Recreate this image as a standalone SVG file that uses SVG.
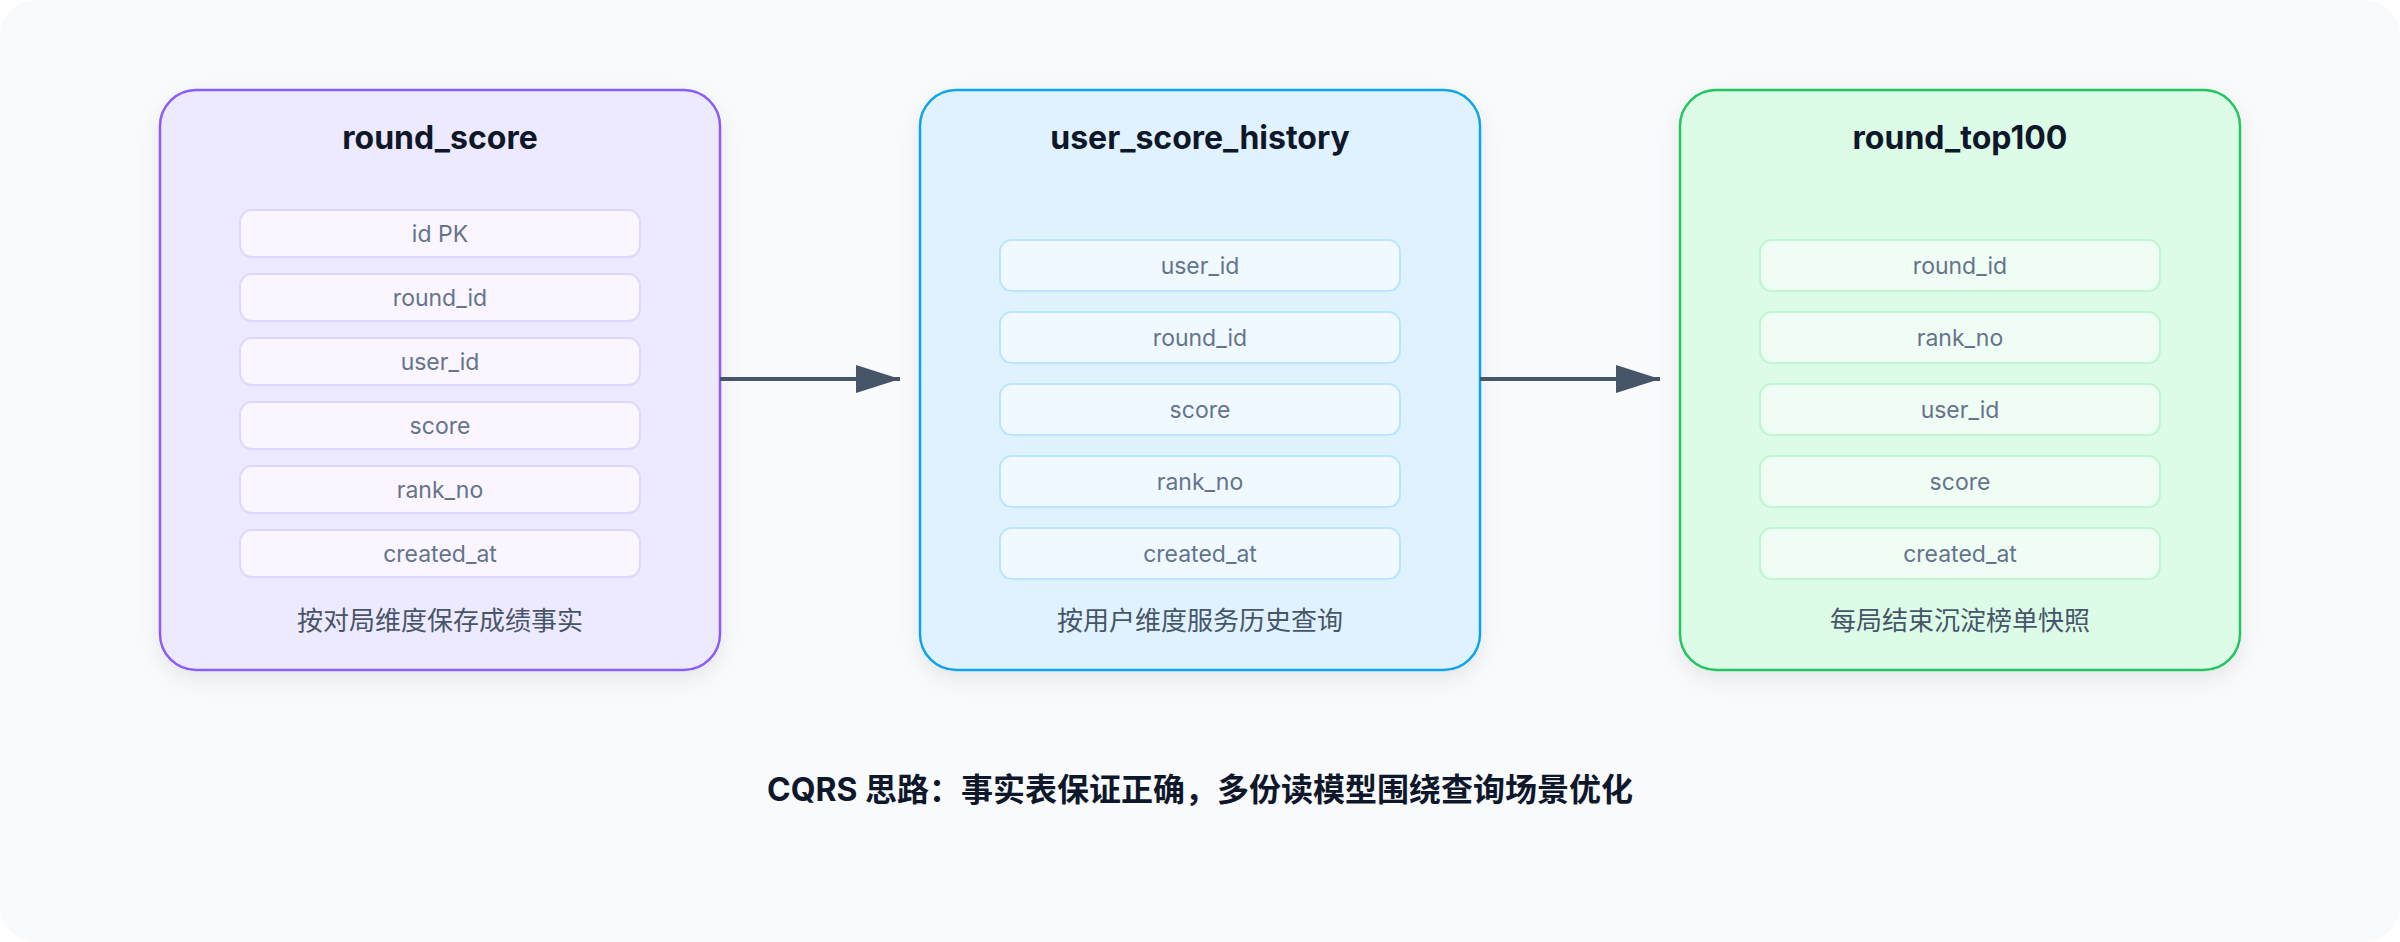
<svg xmlns="http://www.w3.org/2000/svg" width="2400" height="942" viewBox="0 0 2400 942">
<defs>
<filter id="sh" x="-10%" y="-10%" width="120%" height="120%"><feDropShadow dx="0" dy="8" stdDeviation="10" flood-color="#0f172a" flood-opacity="0.08"/></filter>
<marker id="ah" viewBox="0 0 44 28" markerWidth="44" markerHeight="28" refX="44" refY="14" orient="auto" markerUnits="userSpaceOnUse"><path d="M0,0 L44,14 L0,28 Z" fill="#475569"/></marker>
</defs>
<style>
.t{font-family:Inter,"Noto Sans CJK SC",sans-serif;font-weight:700;font-size:32px;fill:#0f172a;text-anchor:middle}
.f{font-family:Inter,"Noto Sans CJK SC",sans-serif;font-size:23px;fill:#64748b;text-anchor:middle}
.c{font-family:Inter,"Noto Sans CJK SC",sans-serif;font-size:26px;fill:#475569;text-anchor:middle}
.p .b{fill:#ede9fe;stroke:#8b5cf6}.p .r{fill:#faf5ff;stroke:#ddd6fe}
.s .b{fill:#e0f2fe;stroke:#0ea5e9}.s .r{fill:#f0f9ff;stroke:#bae6fd}
.g .b{fill:#dcfce7;stroke:#22c55e}.g .r{fill:#f0fdf4;stroke:#bbf7d0}
.b{stroke-width:2.5;filter:url(#sh)}.r{stroke-width:2}
</style>
<rect x="0" y="0" width="2400" height="942" rx="36" fill="#f8fafc"/>
<g id="round_score" class="p">
<rect class="b" x="160" y="90" width="560" height="580" rx="36"/>
<text class="t" x="440" y="149">round_score</text>
<rect class="r" x="240" y="210" width="400" height="47" rx="12"/><text class="f" x="440" y="242">id PK</text>
<rect class="r" x="240" y="274" width="400" height="47" rx="12"/><text class="f" x="440" y="306">round_id</text>
<rect class="r" x="240" y="338" width="400" height="47" rx="12"/><text class="f" x="440" y="370">user_id</text>
<rect class="r" x="240" y="402" width="400" height="47" rx="12"/><text class="f" x="440" y="434">score</text>
<rect class="r" x="240" y="466" width="400" height="47" rx="12"/><text class="f" x="440" y="498">rank_no</text>
<rect class="r" x="240" y="530" width="400" height="47" rx="12"/><text class="f" x="440" y="562">created_at</text>
<text class="c" x="440" y="630">按对局维度保存成绩事实</text>
</g>
<g id="user_score_history" class="s">
<rect class="b" x="920" y="90" width="560" height="580" rx="36"/>
<text class="t" x="1200" y="149">user_score_history</text>
<rect class="r" x="1000" y="240" width="400" height="51" rx="12"/><text class="f" x="1200" y="274">user_id</text>
<rect class="r" x="1000" y="312" width="400" height="51" rx="12"/><text class="f" x="1200" y="346">round_id</text>
<rect class="r" x="1000" y="384" width="400" height="51" rx="12"/><text class="f" x="1200" y="418">score</text>
<rect class="r" x="1000" y="456" width="400" height="51" rx="12"/><text class="f" x="1200" y="490">rank_no</text>
<rect class="r" x="1000" y="528" width="400" height="51" rx="12"/><text class="f" x="1200" y="562">created_at</text>
<text class="c" x="1200" y="630">按用户维度服务历史查询</text>
</g>
<g id="round_top100" class="g">
<rect class="b" x="1680" y="90" width="560" height="580" rx="36"/>
<text class="t" x="1960" y="149">round_top100</text>
<rect class="r" x="1760" y="240" width="400" height="51" rx="12"/><text class="f" x="1960" y="274">round_id</text>
<rect class="r" x="1760" y="312" width="400" height="51" rx="12"/><text class="f" x="1960" y="346">rank_no</text>
<rect class="r" x="1760" y="384" width="400" height="51" rx="12"/><text class="f" x="1960" y="418">user_id</text>
<rect class="r" x="1760" y="456" width="400" height="51" rx="12"/><text class="f" x="1960" y="490">score</text>
<rect class="r" x="1760" y="528" width="400" height="51" rx="12"/><text class="f" x="1960" y="562">created_at</text>
<text class="c" x="1960" y="630">每局结束沉淀榜单快照</text>
</g>
<g id="connectors" stroke="#475569" stroke-width="4" fill="none">
<line x1="720" y1="379" x2="900" y2="379" marker-end="url(#ah)"/>
<line x1="1480" y1="379" x2="1660" y2="379" marker-end="url(#ah)"/>
</g>
<text id="note" class="t" x="1200" y="801">CQRS 思路：事实表保证正确，多份读模型围绕查询场景优化</text>
</svg>
